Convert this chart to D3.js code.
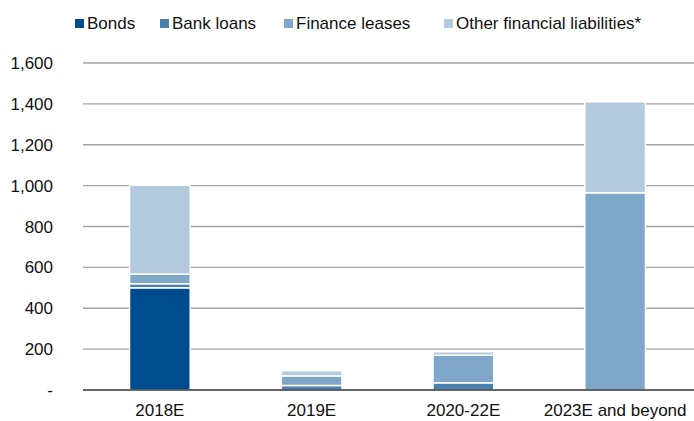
<!DOCTYPE html>
<html>
<head>
<meta charset="utf-8">
<script src="https://cdn.jsdelivr.net/npm/d3@7"></script>
<style>
  body { margin: 0; background: #fff; }
  text { font-family: "Liberation Sans", Arial, sans-serif; fill: #111; }
</style>
</head>
<body>
<svg id="chart"></svg>
<script>
const categories = ["2018E", "2019E", "2020-22E", "2023E and beyond"];
const keys = ["Bonds", "Bank loans", "Finance leases", "Other financial liabilities*"];
const bonds = [500, 0, 0, 0];
const bankLoans = [20, 22, 35, 0];
const financeLeases = [47, 47, 135, 965];
const otherLiabilities = [435, 25, 17, 445];
const yTicks = [0, 200, 400, 600, 800, 1000, 1200, 1400, 1600];
const colors = ["#004b8d", "#4a7fb0", "#7fa7ca", "#b3c9dd"];

let width = 694, height = 421;
let margin = { top: 63, right: 3, bottom: 31, left: 84 };

const data = categories.map((c, i) => ({
    cat: c,
    "Bonds": bonds[i],
    "Bank loans": bankLoans[i],
    "Finance leases": financeLeases[i],
    "Other financial liabilities*": otherLiabilities[i]
}));

let svg = d3.select("#chart").attr("width", width).attr("height", height);

let xScale = d3.scaleBand()
    .domain(categories)
    .range([margin.left, width - margin.right])
    .paddingInner(0.6)
    .paddingOuter(0.3);
let yScale = d3.scaleLinear().domain([0, 1600]).range([height - margin.bottom, margin.top]);

// gridlines
svg.append("g")
    .selectAll("line")
    .data(yTicks.slice(1))
    .enter()
    .append("line")
    .attr("x1", 83).attr("x2", width)
    .attr("y1", d => yScale(d)).attr("y2", d => yScale(d))
    .style("stroke", "#a3a3a3")
    .style("stroke-width", 1.3);

// y labels
svg.append("g")
    .selectAll("text")
    .data(yTicks)
    .enter()
    .append("text")
    .attr("x", 53)
    .attr("y", d => yScale(d) + 6)
    .attr("text-anchor", "end")
    .style("font-size", "17px")
    .text(d => d === 0 ? "-" : d3.format(",")(d));

let stacked = d3.stack().keys(keys)(data);

svg.selectAll(".layer")
    .data(stacked)
    .enter()
    .append("g")
    .attr("class", "layer")
    .style("fill", (d, i) => colors[i])
    .selectAll("rect")
    .data(d => d.filter(s => s[1] - s[0] > 0))
    .enter()
    .append("rect")
    .attr("x", d => xScale(d.data.cat))
    .attr("width", xScale.bandwidth())
    .attr("y", d => yScale(d[1]))
    .attr("height", d => yScale(d[0]) - yScale(d[1]))
    .style("stroke", "#fff")
    .style("stroke-width", 1.5);

// baseline
svg.append("line")
    .attr("x1", 83).attr("x2", width)
    .attr("y1", yScale(0)).attr("y2", yScale(0))
    .style("stroke", "#333")
    .style("stroke-width", 1.6);

// x labels
svg.append("g")
    .selectAll("text")
    .data(categories)
    .enter()
    .append("text")
    .attr("x", d => xScale(d) + xScale.bandwidth() / 2)
    .attr("y", 416)
    .attr("text-anchor", "middle")
    .style("font-size", "17px")
    .text(d => d);

// legend
const legendX = [75, 160, 284, 444];
let legend = svg.append("g")
    .selectAll("g")
    .data(keys)
    .enter()
    .append("g")
    .attr("transform", (d, i) => `translate(${legendX[i]}, 19)`);
legend.append("rect")
    .attr("width", 9).attr("height", 9)
    .style("fill", (d, i) => colors[i]);
legend.append("text")
    .attr("x", 12)
    .attr("y", 10)
    .style("font-size", "17px")
    .text(d => d);
</script>
</body>
</html>
